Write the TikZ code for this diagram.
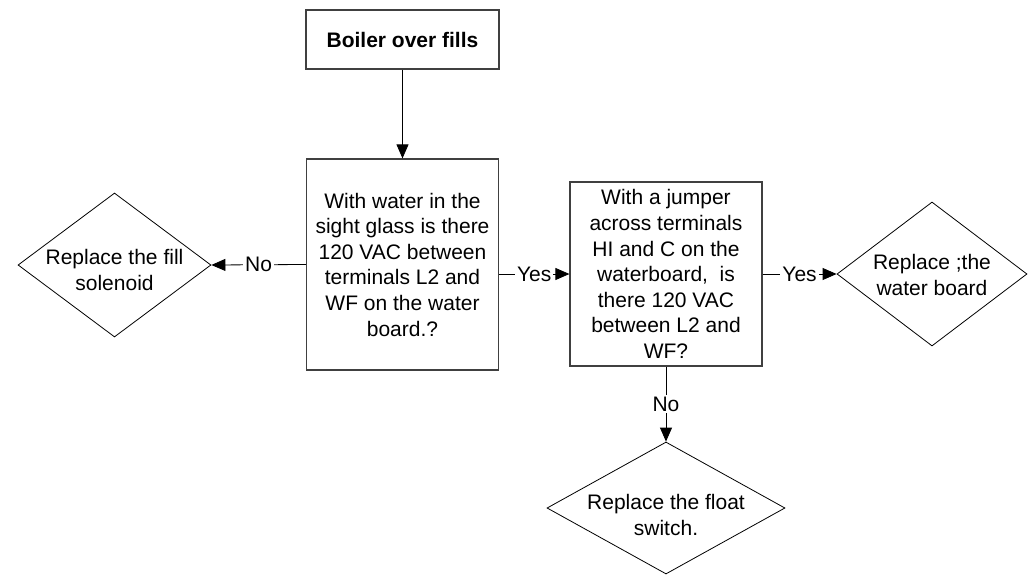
\documentclass[tikz,border=0pt]{standalone}
\usepackage{fontspec}
\setmainfont{Liberation Sans}
\usetikzlibrary{shapes.geometric,arrows.meta}
\begin{document}
\begin{tikzpicture}[x=1pt,y=-1pt,
  every node/.style={font=\fontsize{21}{25.6}\selectfont},
  procbox/.style={draw=black!75, line width=1.2pt, fill=white, inner sep=0pt, align=center},
  decision/.style={draw=black, line width=0.8pt, shape=diamond, inner sep=0pt},
  dtext/.style={align=center, inner sep=0pt},
  conn/.style={draw=black, line width=0.8pt, -{Triangle[length=14pt,width=12pt]}},
  lbl/.style={fill=white, inner sep=2pt}
]
\useasboundingbox (0,0) rectangle (1029,581);

\node[procbox, minimum width=193pt, minimum height=59pt] (start) at (402.5,39.5) {\bfseries Boiler over fills};
\node[procbox, minimum width=192pt, minimum height=211pt] (q1) at (402.5,264.5)
  {With water in the\\sight glass is there\\120 VAC between\\terminals L2 and\\WF on the water\\board.?};
\node[procbox, minimum width=192pt, minimum height=184pt] (q2) at (666,274)
  {With a jumper\\across terminals\\HI and C on the\\waterboard,\ \ is\\there 120 VAC\\between L2 and\\WF?};

\node[decision, minimum width=193pt, minimum height=144pt] (d1) at (114.5,265) {};
\node[dtext] (t1) at (114.5,270) {Replace the fill\\solenoid};

\node[decision, minimum width=190pt, minimum height=144pt] (d2) at (932,274) {};
\node[dtext] (t2) at (932,275) {Replace ;the\\water board};

\node[decision, minimum width=238pt, minimum height=132pt] (d3) at (666,508) {};
\node[dtext] (t3) at (666,515) {Replace the float\\switch.};

\draw[conn] (start.south) -- (q1.north);
\draw[conn] (q1.west) -- node[lbl] (nNo1) {No} (d1.east);
\draw[conn] (q1.east |- q2.west) -- node[lbl] (nYes1) {Yes} (q2.west);
\draw[conn] (q2.east) -- node[lbl] (nYes2) {Yes} (d2.west);
\draw[conn] (q2.south) -- node[lbl] (nNo2) {No} (d3.north);
\end{tikzpicture}
\end{document}
